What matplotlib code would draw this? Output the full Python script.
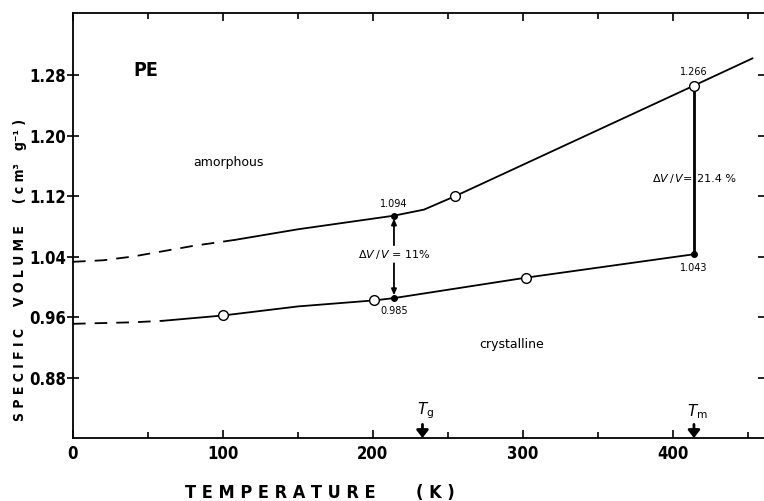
import matplotlib
matplotlib.use('Agg')
import matplotlib.pyplot as plt
from matplotlib import font_manager
from matplotlib.ticker import MultipleLocator, FormatStrFormatter

# amorphous branch (T in K, specific volume in cm3/g)
amor_dash_T = [0, 20, 40, 60, 80, 108]
amor_dash_V = [1.033, 1.035, 1.040, 1.047, 1.054, 1.062]
amor_T = [108, 150, 214, 234, 255, 414, 453]
amor_V = [1.062, 1.076, 1.094, 1.102, 1.120, 1.266, 1.302]

# crystalline branch
cryst_dash_T = [0, 20, 40, 60]
cryst_dash_V = [0.951, 0.952, 0.953, 0.955]
cryst_T = [60, 100, 150, 201, 214, 302, 414]
cryst_V = [0.955, 0.962, 0.974, 0.982, 0.985, 1.012, 1.043]

open_T = [255, 414, 100, 201, 302]
open_V = [1.120, 1.266, 0.962, 0.982, 1.012]
filled_T = [214, 214, 414]
filled_V = [1.094, 0.985, 1.043]

Tg = 233
Tm = 414

# look for a narrow bold face for the axis lettering
narrow = None
for f in font_manager.fontManager.ttflist:
    name = f.name.lower()
    if 'narrow' in name or 'condensed' in name:
        narrow = dict(family=[f.name, 'DejaVu Sans'])
        break
    if str(f.stretch) in ('condensed', 'semi-condensed', 'extra-condensed', '75', '87', '62') \
            and f.name in ('DejaVu Sans', 'Noto Sans', 'Open Sans', 'Roboto', 'Inter'):
        narrow = dict(family=[f.name, 'DejaVu Sans'], stretch='condensed')
        break
if narrow is None:
    narrow = dict(family=['DejaVu Sans'])

fig = plt.figure(figsize=(7.64, 5.01), dpi=100)
ax = fig.add_axes([73 / 764, 63 / 501, 691 / 764, 425 / 501])

ax.plot(amor_dash_T, amor_dash_V, color='k', lw=1.3, ls=(0, (7, 5)))
ax.plot(amor_T, amor_V, color='k', lw=1.3)
ax.plot(cryst_dash_T, cryst_dash_V, color='k', lw=1.3, ls=(0, (7, 5)))
ax.plot(cryst_T, cryst_V, color='k', lw=1.3)

# melting jump
ax.plot([Tm, Tm], [filled_V[2], open_V[1]], color='k', lw=2, zorder=3)

ax.plot(filled_T, filled_V, 'o', color='k', ms=4, zorder=5)
ax.plot(open_T, open_V, 'o', mfc='white', mec='k', mew=1, ms=7, zorder=5)

# glass transition gap arrows
arr = dict(arrowstyle='-|>,head_width=0.15,head_length=0.35', color='k', lw=1.3,
           shrinkA=0, shrinkB=2)
ax.annotate('', xy=(214, 1.094), xytext=(214, 1.055), arrowprops=arr)
ax.annotate('', xy=(214, 0.985), xytext=(214, 1.031), arrowprops=arr)
ax.text(214, 1.043, r'$\Delta V\,/\,V$ = 11%', ha='center', va='center', fontsize=8,
        family='DejaVu Sans')

ax.text(Tm - 1, 1.143, r'$\Delta V\,/\,V$=', ha='right', va='center', fontsize=8,
        family='DejaVu Sans')
ax.text(Tm + 2, 1.143, '21.4 %', ha='left', va='center', fontsize=8,
        family='DejaVu Sans')

ax.text(214, 1.103, '1.094', ha='center', va='bottom', fontsize=7, family='DejaVu Sans')
ax.text(214, 0.975, '0.985', ha='center', va='top', fontsize=7, family='DejaVu Sans')
ax.text(Tm, 1.277, '1.266', ha='center', va='bottom', fontsize=7, family='DejaVu Sans')
ax.text(Tm, 1.031, '1.043', ha='center', va='top', fontsize=7, family='DejaVu Sans')

ax.text(40, 1.286, 'PE', fontsize=14, fontweight='bold', va='center', **narrow)
ax.text(80, 1.164, 'amorphous', fontsize=9, va='center', family='DejaVu Sans')
ax.text(271, 0.923, 'crystalline', fontsize=9, va='center', family='DejaVu Sans')

# transition markers on the axis
tick_arr = dict(arrowstyle='-|>,head_width=0.35,head_length=0.45', color='k', lw=2,
                shrinkA=0, shrinkB=0)
for T, lab in [(Tg, r'$T_{\rm g}$'), (Tm, r'$T_{\rm m}$')]:
    ax.annotate('', xy=(T, 0.800), xytext=(T, 0.818), arrowprops=tick_arr)
    ax.text(T + 2, 0.823, lab, ha='center', va='bottom', fontsize=11)

ax.set_xlim(0, 460.7)
ax.set_ylim(0.80, 1.362)

ax.xaxis.set_major_locator(MultipleLocator(100))
ax.xaxis.set_minor_locator(MultipleLocator(50))
ax.yaxis.set_major_formatter(FormatStrFormatter('%.2f'))
ax.set_yticks([0.88, 0.96, 1.04, 1.12, 1.20, 1.28])

ax.tick_params(axis='x', which='both', direction='in', top=True, width=1.2)
ax.tick_params(axis='x', which='major', length=6, labelsize=12, pad=5)
ax.tick_params(axis='x', which='minor', length=4)
ax.tick_params(axis='y', which='major', direction='inout', length=9, width=1.2,
               labelsize=12, right=True, pad=0.5)
for lab in ax.get_xticklabels() + ax.get_yticklabels():
    lab.set_fontweight('bold')
    lab.set_fontfamily(narrow['family'])
    if 'stretch' in narrow:
        lab.set_fontstretch(narrow['stretch'])

for side in ['left', 'top', 'bottom']:
    ax.spines[side].set_linewidth(1.3)
ax.spines['right'].set_visible(False)

fig.text(280 / 764, 1 - 493 / 501, 'T E M P E R A T U R E',
         ha='center', va='center', fontsize=13, fontweight='bold', **narrow)
fig.text(435 / 764, 1 - 493 / 501, '( K )',
         ha='center', va='center', fontsize=13, fontweight='bold', **narrow)
fig.text(20 / 764, 1 - 270 / 501, 'S P E C I F I C     V O L U M E     ( c m³   g⁻¹ )',
         ha='center', va='center', rotation=90, fontsize=10, fontweight='bold', **narrow)

fig.savefig('out.png', dpi=100)
